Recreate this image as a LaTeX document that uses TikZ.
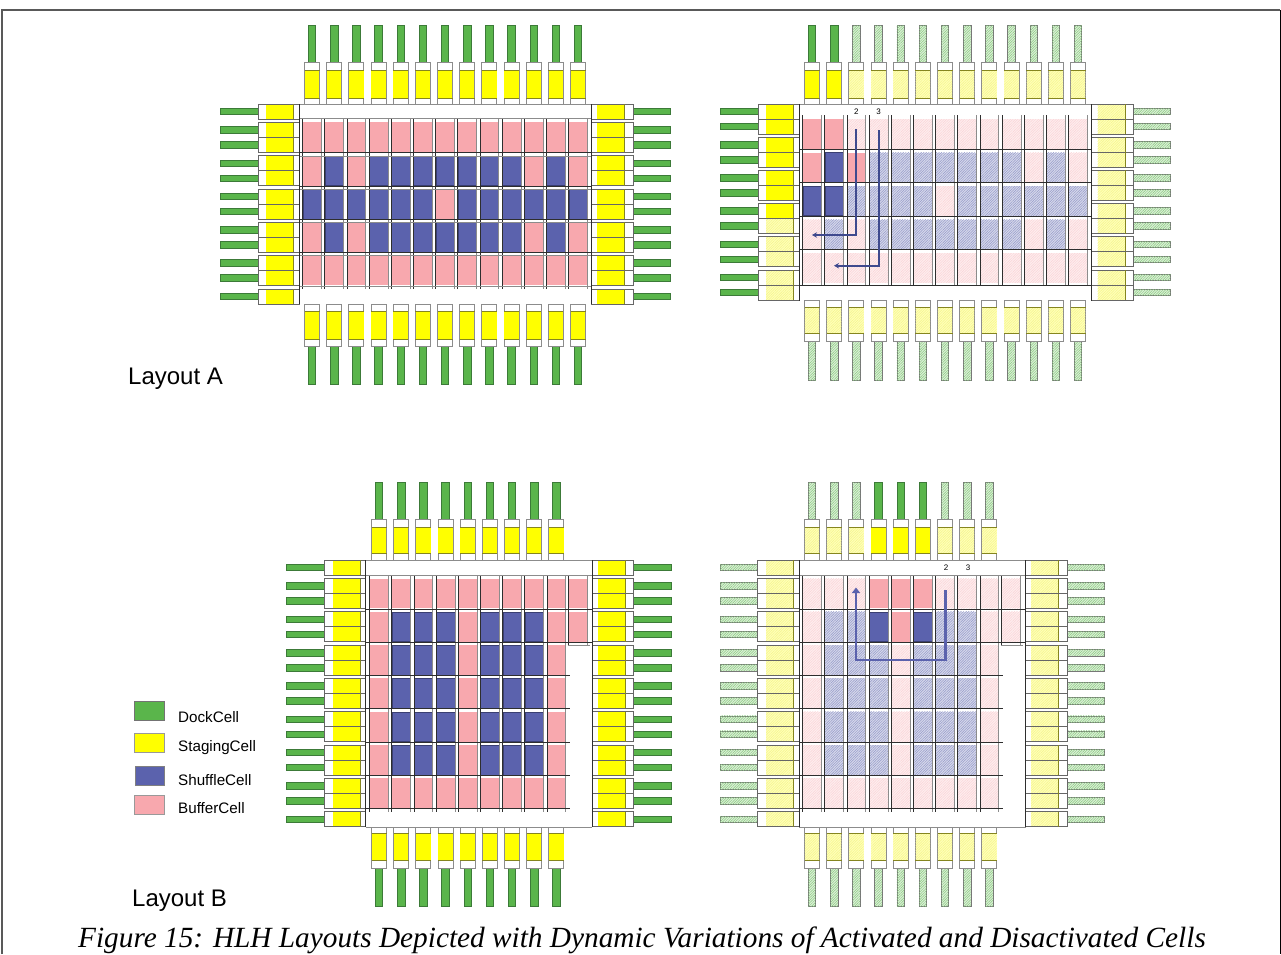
\documentclass[tikz,border=0pt]{standalone}
\usepackage{fontspec}
\setmainfont{Liberation Serif}
\setsansfont{Liberation Sans}
\usetikzlibrary{patterns.meta,arrows.meta}
\definecolor{dockC}{HTML}{5AB54B}
\definecolor{dockE}{HTML}{3C7A38}
\definecolor{yelC}{HTML}{FFFF00}
\definecolor{yelE}{HTML}{85851F}
\definecolor{blueC}{HTML}{5B62AD}
\definecolor{blueE}{HTML}{3A3F72}
\definecolor{pinkC}{HTML}{F8A8AE}
\definecolor{arrA}{HTML}{3F4A8E}
\definecolor{frameG}{HTML}{8C8C8C}
\definecolor{lineK}{HTML}{2E2E2E}
\tikzset{
 hatch/.style 2 args={fill=#1,postaction={pattern={Lines[angle=45,distance=1.8pt,line width=.5pt]},pattern color=#2}},
 dockOn/.style={fill=dockC,draw=dockE,line width=.7pt},
 dockOff/.style={hatch={dockC!22!white}{dockC!70!white},draw=frameG!85!black,line width=.7pt},
 stagOn/.style={fill=yelC},
 stagOff/.style={hatch={yelC!28!white}{yelC!45!white!92!gray}},
 cellP/.style={fill=pinkC},
 cellB/.style={fill=blueC,draw=blueE,line width=.4pt},
 cellp/.style={hatch={pinkC!20!white}{pinkC!50!white}},
 cellb/.style={hatch={blueC!25!white}{blueC!65!white}},
 boxline/.style={draw=frameG,line width=.8pt,fill=white},
 boxedge/.style={draw=black!60,line width=.7pt},
 vdark/.style={draw=lineK,line width=.6pt},
 vgray/.style={draw=frameG,line width=.9pt},
 txtsans/.style={font=\sffamily,inner sep=0pt,anchor=west},
}
% vertical staging+dock: cx, dock y1,y2, box y1,y2, yellow y1,y2, state
\newcommand{\VUnit}[8]{%
 \draw[dock#8] (#1-3.7,#2) rectangle (#1+3.7,#3);
 \draw[boxline] (#1-7.5,#4) rectangle (#1+7.5,#5);
 \path[stag#8] (#1-7.2,#6) rectangle (#1+7.2,#7);
 \draw[draw=yelE,line width=.6pt] (#1-7.5,#6) -- (#1+7.5,#6) (#1-7.5,#7) -- (#1+7.5,#7);
}
% side staging unit: box x, yellow offset, dock x, top, height, yellow state, dock state
\newcommand{\SUnit}[7]{%
 \draw[dock#7] (#3,#4+4.2) rectangle (#3+37.5,#4+10.8);
 \path[fill=white] (#1,#4) rectangle (#1+41.5,#4+#5);
 \path[stag#6] (#1+#2,#4) rectangle (#1+#2+27.3,#4+#5);
 \draw[boxedge] (#1,#4) rectangle (#1+41.5,#4+#5);
 \draw[draw=yelE,line width=.5pt] (#1+#2+27.3,#4) -- (#1+#2+27.3,#4+#5);
}
% grid of cells: first centre x, list of rows, first top, row pitch, height
\newcommand{\CellGrid}[5]{%
 \foreach \rowspec [count=\r from 0] in {#2}{
  \foreach \c [count=\i from 0] in \rowspec{
   \path[cell\c] (#1+22.17*\i-9.3,#3+#4*\r) rectangle (#1+22.17*\i+9.3,#3+#4*\r+#5);
  }
 }
}
\begin{document}
\begin{tikzpicture}[x=1pt,y=-1pt]
\useasboundingbox (0,0) rectangle (1281,954);
\draw[draw=black!65,line width=1.6pt] (2,954) -- (2,10) -- (1280.3,10);
\draw[draw=black,line width=1pt] (1280.3,10) -- (1280.3,954);

%%%%%%%%%%%% Layout A, left
\foreach \i in {0,...,12}{
 \VUnit{312+22.17*\i}{25}{62.5}{62.5}{104}{70.5}{98}{On}
 \VUnit{312+22.17*\i}{346}{384}{304.5}{346}{311}{339.5}{On}
}
\draw[frameG,line width=.8pt] (300,104) -- (591.7,104);
\foreach \t in {104,289}{
 \SUnit{258}{8}{220.5}{\t}{15}{On}{On}
 \SUnit{591.7}{5.7}{633.2}{\t}{15}{On}{On}
}
\foreach \t in {122.4,155.7,189,222.3,255.6}{
 \foreach \d in {0,15}{
  \SUnit{258}{8}{220.5}{\t+\d}{15}{On}{On}
  \SUnit{591.7}{5.7}{633.2}{\t+\d}{15}{On}{On}
 }
}
\CellGrid{312}{{P,P,P,P,P,P,P,P,P,P,P,P,P},{P,B,P,B,B,B,B,B,B,B,P,B,P},{B,B,B,B,B,B,P,B,B,B,B,B,B},{P,B,P,B,B,B,B,B,B,B,P,B,P},{P,P,P,P,P,P,P,P,P,P,P,P,P}}{122.4}{33.3}{29.8}
\foreach \i in {0,...,12}{
 \draw[vdark] (312+22.17*\i-9.5,118.5) -- (312+22.17*\i-9.5,288.5);
 \draw[vgray] (312+22.17*\i+9.5,118.5) -- (312+22.17*\i+9.5,288.5);
}
\draw[vgray] (300,118.7) -- (591.7,118.7);
\draw[vgray] (300,286.5) -- (591.7,286.5);
\foreach \y in {152.7,186,219.3,252.6}{
 \draw[vdark] (300,\y) -- (591.7,\y);
 \draw[draw=frameG,line width=.4pt] (300,\y+3) -- (591.7,\y+3);
}
\draw[vdark] (299.5,104) -- (299.5,304);
\draw[vdark] (591.7,104) -- (591.7,304);

%%%%%%%%%%%% Layout A, right
\foreach \i in {0,...,12}{
 \ifnum\i<2 \def\st{On}\else\def\st{Off}\fi
 \VUnit{812+22.17*\i}{25}{62.5}{62.5}{104}{70.5}{98}{\st}
 \VUnit{812+22.17*\i}{341.5}{380}{300.5}{341.5}{307}{333}{Off}
}
\draw[frameG,line width=.8pt] (800,104) -- (1091.7,104);
\foreach \t/\a/\b in {104/On/On,137.2/On/On,170.4/On/On,203.6/On/Off,236.8/Off/Off,270/Off/Off}{
 \SUnit{758}{8}{720.5}{\t}{15}{\a}{On}
 \SUnit{758}{8}{720.5}{\t+15}{15}{\b}{On}
 \SUnit{1091.7}{6}{1133.2}{\t}{15}{Off}{Off}
 \SUnit{1091.7}{6}{1133.2}{\t+15}{15}{Off}{Off}
}
\CellGrid{812}{{P,P,p,p,p,p,p,p,p,p,p,p,p},{P,B,P,b,b,b,b,b,b,b,p,b,p},{B,B,b,b,b,b,p,b,b,b,b,b,b},{p,b,p,b,b,b,b,b,b,b,p,b,p},{p,p,p,p,p,p,p,p,p,p,p,p,p}}{119}{33.5}{29.6}
\foreach \i in {0,...,12}{
 \draw[vdark] (812+22.17*\i-9.5,115) -- (812+22.17*\i-9.5,285.5);
 \draw[vgray] (812+22.17*\i+9.5,115) -- (812+22.17*\i+9.5,285.5);
}
\foreach \y in {149,182.5,216,249.5,285}{
 \draw[vdark] (800,\y) -- (1091.7,\y);
}
\draw[vdark] (799.5,104) -- (799.5,300.5);
\draw[vdark] (1091.7,104) -- (1091.7,300.5);
\node[font=\sffamily\fontsize{8}{9}\selectfont,inner sep=0pt] (a2) at (856.3,112) {2};
\node[font=\sffamily\fontsize{8}{9}\selectfont,inner sep=0pt] (a3) at (878.7,112) {3};
\coordinate (a2s) at (856.3,129);
\coordinate (a2c) at (856.3,235);
\coordinate (a2e) at (812,235);
\coordinate (a3s) at (878.7,130);
\coordinate (a3c) at (878.7,265.7);
\coordinate (a3e) at (834,265.7);
\draw[arrA,line width=2pt,-{Stealth[length=5pt,width=5.5pt]}] (a2s) -- (a2c) -- (a2e);
\draw[arrA,line width=2pt,-{Stealth[length=5pt,width=5.5pt]}] (a3s) -- (a3c) -- (a3e);

%%%%%%%%%%%% Layout B, left
\foreach \i in {0,...,8}{
 \VUnit{379+22.17*\i}{482}{519}{519}{560}{527.5}{553.5}{On}
 \VUnit{379+22.17*\i}{868}{906}{827}{868}{833}{860}{On}
}
\draw[frameG,line width=.8pt] (365.7,560) -- (592,560);
\draw[frameG,line width=.8pt] (365.7,827) -- (592,827);
\foreach \t in {560,811.8}{
 \SUnit{324.2}{8.5}{286.7}{\t}{15}{On}{On}
 \SUnit{592}{5.7}{633.5}{\t}{15}{On}{On}
}
\foreach \t in {578.5,611.8,645.1,678.4,711.7,745,778.3}{
 \foreach \d in {0,15}{
  \SUnit{324.2}{8.5}{286.7}{\t+\d}{15}{On}{On}
  \SUnit{592}{5.7}{633.5}{\t+\d}{15}{On}{On}
 }
}
\CellGrid{379}{{P,P,P,P,P,P,P,P,P,P},{P,B,B,B,P,B,B,B,P,P},{P,B,B,B,P,B,B,B,P},{P,B,B,B,P,B,B,B,P},{P,B,B,B,P,B,B,B,P},{P,B,B,B,P,B,B,B,P},{P,P,P,P,P,P,P,P,P}}{578.5}{33.3}{29.8}
\foreach \i in {0,...,8}{
 \draw[vdark] (379+22.17*\i-9.5,575) -- (379+22.17*\i-9.5,811.5);
 \draw[vgray] (379+22.17*\i+9.5,575) -- (379+22.17*\i+9.5,811.5);
}
\draw[vdark] (568.03,575) -- (568.03,645);
\draw[vgray] (587.5,575) -- (587.5,645);
\draw[vgray] (365.7,575) -- (592,575);
\foreach \y in {608.8,642.1}{\draw[vdark] (365.7,\y) -- (592,\y);}
\foreach \y in {675.4,708.7,742,775.3,808.6}{\draw[vdark] (365.7,\y) -- (569.5,\y);}
\draw[vgray] (568,645) -- (590,645);
\draw[vdark] (365.7,560) -- (365.7,827);
\draw[vdark] (592,560) -- (592,827);

%%%%%%%%%%%% Layout B, right
\foreach \i in {0,...,8}{
 \ifnum\i<3 \def\st{Off}\else\ifnum\i<6 \def\st{On}\else\def\st{Off}\fi\fi
 \VUnit{812+22.17*\i}{482}{519}{519}{560}{527.5}{553.5}{\st}
 \VUnit{812+22.17*\i}{868}{906}{827}{868}{833}{860}{Off}
}
\draw[frameG,line width=.8pt] (799.2,560) -- (1025.5,560);
\draw[frameG,line width=.8pt] (799.2,827) -- (1025.5,827);
\foreach \t in {560,811.8}{
 \SUnit{757.7}{8.5}{720.2}{\t}{15}{Off}{Off}
 \SUnit{1025.5}{5.7}{1067}{\t}{15}{Off}{Off}
}
\foreach \t in {578.5,611.8,645.1,678.4,711.7,745,778.3}{
 \foreach \d in {0,15}{
  \SUnit{757.7}{8.5}{720.2}{\t+\d}{15}{Off}{Off}
  \SUnit{1025.5}{5.7}{1067}{\t+\d}{15}{Off}{Off}
 }
}
\CellGrid{812}{{p,p,p,P,P,P,p,p,p,p},{p,b,b,B,P,B,b,b,p,p},{p,b,b,b,p,b,b,b,p},{p,b,b,b,p,b,b,b,p},{p,b,b,b,p,b,b,b,p},{p,b,b,b,p,b,b,b,p},{p,p,p,p,p,p,p,p,p}}{578.5}{33.3}{29.8}
\foreach \i in {0,...,8}{
 \draw[vdark] (812+22.17*\i-9.5,575) -- (812+22.17*\i-9.5,811.5);
 \draw[vgray] (812+22.17*\i+9.5,575) -- (812+22.17*\i+9.5,811.5);
}
\draw[vdark] (1001.03,575) -- (1001.03,645);
\draw[vgray] (1020.5,575) -- (1020.5,645);
\draw[vgray] (799.2,575) -- (1025.5,575);
\foreach \y in {608.8,642.1}{\draw[vdark] (799.2,\y) -- (1025.5,\y);}
\foreach \y in {675.4,708.7,742,775.3,808.6}{\draw[vdark] (799.2,\y) -- (1003,\y);}
\draw[vgray] (1001,645) -- (1023,645);
\draw[vdark] (799.2,560) -- (799.2,827);
\draw[vdark] (1025.5,560) -- (1025.5,827);
\node[font=\sffamily\fontsize{8}{9}\selectfont,inner sep=0pt] (b2) at (946,568) {2};
\node[font=\sffamily\fontsize{8}{9}\selectfont,inner sep=0pt] (b3) at (968,568) {3};
\coordinate (bs) at (945.7,590);
\coordinate (bc1) at (945.7,660);
\coordinate (bc2) at (856,660);
\coordinate (be) at (856,587.5);
\draw[blueC,line width=2.8pt,-{Triangle[length=5.5pt,width=8pt]}] (bs) -- (bc1) -- (bc2) -- (be);

%%%%%%%%%%%% Legend and labels
\draw[fill=dockC,draw=black!55,line width=.8pt] (134.5,701.5) rectangle (164.5,720);
\draw[fill=yelC,draw=black!40,line width=.8pt] (134.5,733.5) rectangle (164.5,752);
\draw[fill=blueC,draw=black!50,line width=.8pt] (135,766) rectangle (164.5,785);
\draw[fill=pinkC,draw=black!40,line width=.8pt] (134.5,795.5) rectangle (164.5,814);
\node[txtsans,font=\sffamily\fontsize{15.2}{17}\selectfont] (l1) at (178,717) {DockCell};
\node[txtsans,font=\sffamily\fontsize{15.2}{17}\selectfont] (l2) at (178,748) {StagingCell};
\node[txtsans,font=\sffamily\fontsize{15.2}{17}\selectfont] (l3) at (178,780) {ShuffleCell};
\node[txtsans,font=\sffamily\fontsize{15.2}{17}\selectfont] (l4) at (178,808.5) {BufferCell};
\node[txtsans,font=\sffamily\fontsize{24}{27}\selectfont] (la) at (128,378.5) {Layout A};
\node[txtsans,font=\sffamily\fontsize{24}{27}\selectfont] (lb) at (132,900.5) {Layout B};
\node[inner sep=0pt,anchor=base west,font=\rmfamily\itshape\fontsize{29.3}{32}\selectfont] (cap) at (78,947) {Figure 15: HLH Layouts Depicted with Dynamic Variations of Activated and Disactivated Cells};
\end{tikzpicture}
\end{document}
